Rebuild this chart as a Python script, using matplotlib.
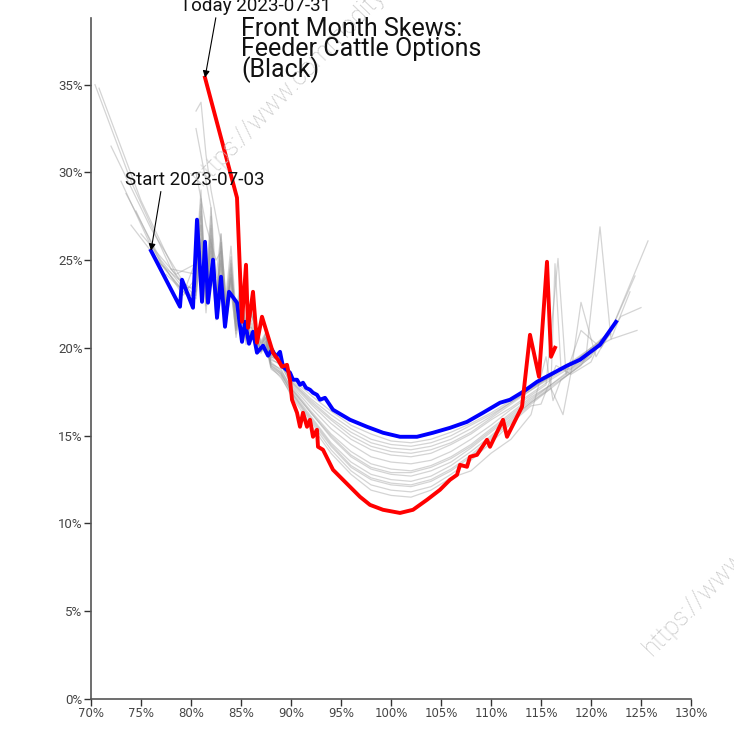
import matplotlib
matplotlib.use("Agg")
import matplotlib.pyplot as plt
from matplotlib.ticker import FuncFormatter, MultipleLocator

# ---------------- data (strike % of ATM, implied vol %) ----------------
start_strikes = [76.0, 78.9, 79.1, 80.2, 80.6, 81.1, 81.4, 81.7, 82.2, 82.6, 83.0, 83.4, 83.8,
                 84.6, 85.1, 85.4, 85.8, 86.2, 86.6, 87.2, 87.7, 88.1, 88.5, 88.9, 89.2, 89.9,
                 90.2, 90.6, 90.9, 91.2, 91.5, 91.9, 92.2, 92.6, 92.9, 93.4, 94.2, 95.9, 97.6,
                 99.2, 100.9, 102.6, 104.2, 105.9, 107.6, 109.2, 110.9, 111.9, 113.2, 114.6,
                 115.9, 117.6, 118.9, 120.9, 122.5]
start_vols = [25.54, 22.35, 23.89, 22.29, 27.31, 22.63, 26.05, 22.58, 25.03, 21.72, 24.06, 21.21,
              23.20, 22.58, 20.35, 21.49, 20.24, 20.92, 19.73, 20.13, 19.56, 19.90, 19.50, 19.78,
              18.93, 18.59, 18.19, 18.19, 17.90, 18.02, 17.73, 17.62, 17.45, 17.33, 17.05, 17.16,
              16.48, 15.91, 15.51, 15.17, 14.94, 14.94, 15.17, 15.45, 15.79, 16.31, 16.88, 17.05,
              17.50, 18.07, 18.47, 18.99, 19.33, 20.18, 21.49]

today_strikes = [81.4, 84.6, 85.1, 85.5, 85.7, 86.2, 86.6, 87.1, 88.2, 88.7, 89.1, 89.6, 89.9,
                 90.1, 90.6, 90.9, 91.2, 91.6, 91.9, 92.2, 92.6, 92.7, 93.2, 93.7, 94.2, 94.9,
                 95.9, 96.9, 97.9, 99.2, 100.9, 102.2, 103.6, 104.9, 105.9, 106.6, 106.9, 107.6,
                 107.9, 108.6, 109.6, 109.9, 111.2, 111.6, 113.1, 113.4, 113.9, 114.8, 115.6,
                 116.0, 116.4]
today_vols = [35.40, 28.56, 21.49, 24.74, 21.15, 23.20, 20.30, 21.78, 19.73, 19.33, 18.93, 19.04,
              18.19, 17.05, 16.31, 15.51, 16.31, 15.51, 15.91, 14.94, 15.34, 14.37, 14.20, 13.63,
              13.06, 12.66, 12.09, 11.52, 11.06, 10.78, 10.60, 10.78, 11.35, 11.92, 12.49, 12.77,
              13.34, 13.23, 13.80, 13.91, 14.77, 14.37, 15.91, 14.94, 16.65, 18.19, 20.75, 18.36,
              24.91, 19.50, 20.01]

# intermediate days (grey): wing strikes shared in the choppy and middle sections
choppy_strikes = [80.5, 81.0, 81.5, 82.0, 82.5, 83.0, 83.5, 84.0, 84.5, 85.0, 85.5, 86.0, 87.0,
                  87.5]
middle_strikes = [88, 89, 90, 92, 94, 96, 98, 100, 102, 104, 106, 108, 110, 112, 114]

day_left_strikes = [[74.5, 77.0, 79.0], [73.0, 76.0, 79.2], [70.4, 74.0, 78.0], [70.8, 75.0, 78.5],
                    [72.0, 76.0, 79.5], [75.0, 78.0, 80.0], [76.5, 79.0], [78.0, 80.0], [], [],
                    [73.5, 77.0, 79.8], [77.5, 80.0], [], [74.0, 77.5, 80.0]]
day_left_vols = [[27.8, 24.8, 23.4], [29.5, 25.8, 23.0], [35.0, 29.5, 24.5], [34.8, 28.4, 24.2],
                 [31.5, 26.8, 23.5], [26.5, 24.5, 23.2], [25.0, 23.8], [24.5, 23.0], [], [],
                 [28.8, 25.0, 23.0], [24.2, 22.8], [], [27.0, 24.4, 22.7]]
day_choppy_vols = [
    [23.5, 26.5, 22.8, 25.5, 22.2, 24.8, 21.8, 24.0, 21.5, 22.8, 21.0, 21.9, 20.4, 20.9],
    [24.0, 27.5, 23.0, 26.2, 22.5, 25.0, 22.0, 24.2, 21.6, 23.0, 21.2, 22.2, 20.3, 20.8],
    [24.2, 28.5, 23.2, 27.0, 22.6, 25.8, 22.0, 24.5, 21.4, 23.2, 20.8, 22.0, 20.2, 20.6],
    [24.8, 27.0, 23.5, 28.0, 22.2, 26.5, 22.5, 25.0, 21.0, 22.5, 21.4, 20.8, 20.0, 20.9],
    [25.0, 29.0, 22.5, 27.5, 23.0, 26.0, 21.6, 24.8, 21.8, 23.5, 20.6, 21.6, 19.9, 20.5],
    [22.8, 26.0, 22.0, 25.2, 21.6, 24.5, 21.2, 23.5, 20.8, 22.6, 20.5, 21.4, 19.8, 20.3],
    [23.2, 27.0, 22.4, 26.0, 21.8, 25.5, 21.5, 24.0, 20.6, 22.2, 20.2, 21.0, 19.8, 20.4],
    [23.8, 28.2, 23.0, 26.8, 22.2, 26.0, 21.8, 24.2, 21.2, 22.0, 20.4, 20.9, 19.7, 20.2],
    [32.5, 31.0, 29.5, 28.0, 24.0, 26.5, 22.5, 25.2, 21.5, 23.8, 21.0, 21.2, 20.0, 20.6],
    [33.5, 34.0, 31.0, 29.0, 27.5, 26.0, 23.0, 25.8, 22.0, 24.0, 20.8, 22.0, 19.8, 20.1],
    [23.0, 25.5, 22.6, 24.8, 22.0, 24.0, 21.5, 23.2, 21.0, 22.0, 20.8, 20.9, 20.2, 20.6],
    [24.5, 27.8, 22.8, 26.4, 22.4, 25.2, 21.9, 24.6, 21.1, 23.0, 20.6, 21.2, 19.9, 20.4],
    [30.0, 28.5, 27.0, 26.0, 25.0, 25.5, 22.4, 24.0, 21.5, 22.8, 20.7, 21.0, 19.9, 20.2],
    [23.3, 26.2, 22.9, 25.8, 22.1, 25.0, 21.7, 23.8, 21.3, 22.4, 20.9, 20.8, 20.3, 20.7],
]
day_middle_vols = [
    [19.6, 19.4, 18.3, 17.3, 16.4, 15.6, 15.1, 14.7, 14.6, 14.8, 15.2, 15.7, 16.3, 17.0, 17.7],
    [19.5, 19.2, 18.1, 17.0, 16.0, 15.2, 14.6, 14.3, 14.2, 14.4, 14.8, 15.4, 16.1, 16.9, 17.6],
    [19.4, 19.0, 18.0, 16.8, 15.7, 14.8, 14.2, 13.9, 13.8, 14.0, 14.5, 15.1, 15.9, 16.6, 17.4],
    [19.3, 19.1, 17.9, 16.6, 15.4, 14.5, 13.8, 13.5, 13.4, 13.6, 14.1, 14.8, 15.6, 16.5, 17.3],
    [19.2, 18.7, 17.8, 16.4, 15.1, 14.1, 13.4, 13.1, 13.0, 13.3, 13.8, 14.5, 15.4, 16.3, 17.2],
    [19.1, 18.8, 17.7, 16.3, 14.9, 13.8, 13.1, 12.8, 12.7, 13.0, 13.5, 14.3, 15.2, 16.1, 17.0],
    [19.0, 18.5, 17.6, 16.1, 14.6, 13.5, 12.8, 12.5, 12.4, 12.7, 13.3, 14.1, 15.0, 16.0, 16.9],
    [19.0, 18.6, 17.5, 15.9, 14.4, 13.2, 12.5, 12.2, 12.1, 12.4, 13.0, 13.8, 14.8, 15.8, 16.8],
    [18.9, 18.3, 17.4, 15.8, 14.2, 13.0, 12.2, 11.9, 11.8, 12.1, 12.8, 13.6, 14.6, 15.7, 16.7],
    [18.8, 18.4, 17.3, 15.6, 14.0, 12.8, 11.9, 11.6, 11.5, 11.9, 12.6, 13.0, 14.0, 14.8, 16.2],
    [19.5, 19.3, 18.1, 16.9, 15.9, 15.0, 14.4, 14.1, 14.0, 14.2, 14.6, 15.2, 16.0, 16.8, 17.6],
    [19.1, 18.6, 17.7, 16.3, 15.0, 13.9, 13.2, 12.9, 12.9, 13.2, 13.7, 14.4, 15.3, 16.2, 17.1],
    [18.9, 18.5, 17.5, 16.0, 14.5, 13.3, 12.6, 12.3, 12.2, 12.5, 13.1, 13.9, 14.9, 15.9, 16.9],
    [19.6, 19.2, 18.2, 17.1, 16.2, 15.4, 14.8, 14.5, 14.4, 14.6, 15.0, 15.6, 16.2, 16.9, 17.7],
]
day_right_strikes = [[116, 118, 120, 122, 124.4], [116, 118, 120, 122, 125.7],
                     [116, 118, 119.5, 120.9, 122.0, 123.9],
                     [115.5, 116.7, 117.5, 119, 121, 123, 125],
                     [116, 116.4, 117, 118, 120, 122, 124.6], [116, 118, 120, 122.5],
                     [115, 116, 118, 119, 120.5, 122], [116, 117.2, 118, 120, 121.5],
                     [115, 116.5, 118, 120, 121], [115.5, 116.2, 117, 119, 120],
                     [116, 118, 120, 121.5], [116, 118, 119.5, 121], [116, 118, 120],
                     [116, 118, 120, 122]]
day_right_vols = [[18.4, 19.2, 20.0, 21.0, 24.1], [18.3, 19.0, 19.9, 21.0, 26.1],
                  [18.2, 18.9, 19.5, 26.9, 20.5, 23.2],
                  [17.9, 25.1, 18.5, 21.0, 20.0, 21.8, 22.3],
                  [17.9, 24.8, 18.8, 18.8, 19.9, 20.5, 21.0], [17.9, 18.7, 19.6, 21.5],
                  [17.3, 17.7, 18.6, 22.6, 19.5, 21.0], [17.7, 16.2, 18.6, 19.5, 20.8],
                  [16.8, 19.0, 18.5, 19.2, 20.5], [19.5, 17.0, 18.2, 19.0, 20.0],
                  [18.4, 19.1, 20.0, 20.6], [17.9, 18.8, 19.4, 20.4], [17.8, 18.6, 19.5],
                  [18.4, 19.1, 19.9, 20.8]]

title = "Front Month Skews:\nFeeder Cattle Options\n(Black)"
start_label = "Start 2023-07-03"
today_label = "Today 2023-07-31"
watermark = "https://www.commoditycharts.com"

# ---------------- figure ----------------
fig = plt.figure(figsize=(7.34, 7.30), dpi=100)
ax = fig.add_axes([91 / 734, 31 / 730, 600 / 734, 681 / 730])

for i in range(len(day_choppy_vols)):
    xs = day_left_strikes[i] + choppy_strikes + middle_strikes + day_right_strikes[i]
    ys = day_left_vols[i] + day_choppy_vols[i] + day_middle_vols[i] + day_right_vols[i]
    ax.plot(xs, ys, color="#9a9a9a", alpha=0.42, lw=0.9, zorder=1)

ax.plot(start_strikes, start_vols, color="#0000ff", lw=2.8, zorder=3)
ax.plot(today_strikes, today_vols, color="#ff0000", lw=2.8, zorder=4)

ax.set_xlim(70, 130)
ax.set_ylim(0, 38.8)
ax.xaxis.set_major_locator(MultipleLocator(5))
ax.yaxis.set_major_locator(MultipleLocator(5))
ax.xaxis.set_major_formatter(FuncFormatter(lambda v, p: f"{v:.0f}%"))
ax.yaxis.set_major_formatter(FuncFormatter(lambda v, p: f"{v:.0f}%"))
for s in ["top", "right"]:
    ax.spines[s].set_visible(False)
for s in ["left", "bottom"]:
    ax.spines[s].set_color("#555555")
    ax.spines[s].set_linewidth(1.2)
ax.tick_params(direction="out", length=5, width=1, color="#333333", pad=1)
for lab in ax.get_xticklabels():
    lab.set_fontfamily(["Liberation Sans Narrow", "DejaVu Sans"])
    lab.set_fontsize(8.5)
    lab.set_color("#444444")
for lab in ax.get_yticklabels():
    lab.set_fontfamily(["Roboto", "DejaVu Sans"])
    lab.set_fontsize(9.5)
    lab.set_color("#444444")

ann_font = dict(family=["Roboto", "DejaVu Sans"], fontsize=13.5, fontweight="normal",
                color="#111111")
ax.annotate(start_label, xy=(start_strikes[0], start_vols[0]), xytext=(73.4, 29.3),
            ha="left", va="baseline", zorder=6,
            arrowprops=dict(arrowstyle="-|>", color="black", lw=0.8, relpos=(0.27, 0.45),
                            shrinkA=0, shrinkB=0, mutation_scale=10), **ann_font)
ax.annotate(today_label, xy=(today_strikes[0], today_vols[0]), xytext=(78.9, 39.2),
            ha="left", va="baseline", zorder=6, annotation_clip=False,
            arrowprops=dict(arrowstyle="-|>", color="black", lw=0.8, relpos=(0.25, 0.45),
                            shrinkA=0, shrinkB=0, mutation_scale=10), **ann_font)

fig.text(241 / 734, 1 - 17 / 730, title, ha="left", va="top", fontsize=18, linespacing=0.78,
         family=["Roboto", "DejaVu Sans"], fontweight="normal", color="#111111", zorder=7)

wm = dict(fontsize=18, color="#c4c4c4", rotation=46, family=["Roboto", "DejaVu Sans"],
          fontweight="light", ha="left", va="bottom", rotation_mode="anchor", zorder=0)
fig.text(206 / 734, 1 - 190 / 730, watermark, **wm)
fig.text(656 / 734, 1 - 660 / 730, watermark, **wm)

fig.savefig("out.png", dpi=100)
